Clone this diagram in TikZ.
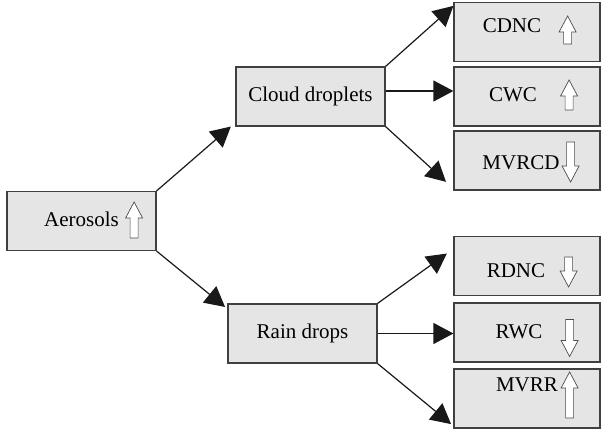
\documentclass[tikz,border=0pt]{standalone}
\usepackage{fontspec}
\setmainfont{Liberation Serif}
\usetikzlibrary{arrows.meta}

\newcommand{\shifttext}[3]{\raisebox{#1}{#3}\kern#2\relax}

\begin{document}
\begin{tikzpicture}[x=0.5pt, y=-0.5pt,
		box/.style={draw=black!75, fill=gray!20, line width=0.6pt, minimum width=74.5pt, minimum height=29.5pt, inner sep=0pt, text height=7.5pt, text depth=2pt, font=\fontsize{10.5}{12}\selectfont},
		outbox/.style={box, minimum width=73pt},
		flow/.style={-{Triangle[length=10pt,width=10.5pt]}, line width=0.6pt, black!90},
		pics/updir/.style={code={
				\draw[black!70, fill=white, line width=0.35pt] (0,{-#1/2}) -- (8.5,{-#1/2+16}) -- (4,{-#1/2+16}) -- (4,{#1/2}) -- (-4,{#1/2}) -- (-4,{-#1/2+16}) -- (-8.5,{-#1/2+16}) -- cycle;
		}},
		pics/downdir/.style={code={
				\draw[black!70, fill=white, line width=0.35pt] (0,{#1/2}) -- (8.5,{#1/2-16}) -- (4,{#1/2-16}) -- (4,{-#1/2}) -- (-4,{-#1/2}) -- (-4,{#1/2-16}) -- (-8.5,{#1/2-16}) -- cycle;
		}}
	]
	
	\useasboundingbox (0,0) rectangle (601,432);
	
	% boxes
	\node[box] (aer) at (81.5,221) {Aerosols};
	\node[box] (cloud) at (310.5,96.5) {Cloud droplets};
	\node[box] (rain) at (302.5,333.5) {Rain drops};
	
	\node[outbox] (cdnc) at (527,32) {\shifttext{2.5pt}{15pt}{CDNC}};
	\node[outbox] (cwc) at (527,96.5) {\shifttext{0pt}{14pt}{CWC}};
	\node[outbox] (mvrcd) at (527,160.5) {\shifttext{-1.7pt}{6pt}{MVRCD}};
	
	\node[outbox] (rdnc) at (527,266) {\shifttext{-3.2pt}{11pt}{RDNC}};
	\node[outbox] (rwc) at (527,332.5) {\shifttext{-0.3pt}{8pt}{RWC}};
	\node[outbox] (mvrr) at (527,398.5) {\shifttext{6.3pt}{0pt}{MVRR}};
	
	% up and down marks
	\pic at ([xshift=-11.25pt,yshift=0.5pt]aer.east) {updir=36};
	\pic at ([xshift=-16.5pt,yshift=1pt]cdnc.east) {updir=28};
	\pic at ([xshift=-15.75pt,yshift=0.75pt]cwc.east) {updir=30};
	\pic at ([xshift=-15pt,yshift=-0.75pt]mvrcd.east) {downdir=40};
	\pic at ([xshift=-16pt,yshift=-3pt]rdnc.east) {downdir=30};
	\pic at ([xshift=-15.5pt,yshift=-2.75pt]rwc.east) {downdir=37};
	\pic at ([xshift=-15.5pt,yshift=1.75pt]mvrr.east) {updir=46};
	
	% connectors
	\draw[flow, shorten >=3pt] (aer.north east) -- ([yshift=2pt]cloud.south west);
	\draw[flow, shorten >=1.5pt] (aer.south east) -- ([yshift=-2.75pt]rain.north west);
	
	\draw[flow] (cloud.north east) -- ([yshift=-2pt]cdnc.north west);
	\draw[flow] ([yshift=2.75pt]cloud.east) -- ([yshift=2.75pt]cwc.west);
	\draw[flow, shorten >=5pt] (cloud.south east) -- ([yshift=1pt]mvrcd.south west);
	
	\draw[flow, shorten >=4pt] (rain.north east) -- ([yshift=-6.5pt]rdnc.north west);
	\draw[flow] (rain.east) -- (rain.east -| rwc.west);
	\draw[flow, shorten >=1.5pt] (rain.south east) -- ([yshift=1.3pt]mvrr.south west);
	
\end{tikzpicture}
\end{document}
